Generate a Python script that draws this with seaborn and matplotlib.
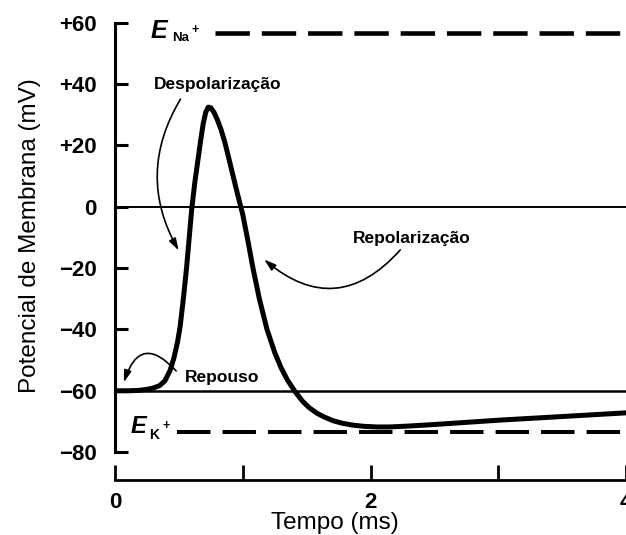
import matplotlib
matplotlib.use("Agg")
import matplotlib.pyplot as plt
import seaborn as sns

# action potential trace (time in ms, membrane potential in mV)
t_ms = [0, 0.10, 0.18, 0.24, 0.30, 0.35, 0.39, 0.43, 0.46, 0.49, 0.51, 0.535,
        0.56, 0.58, 0.60, 0.625, 0.65, 0.67, 0.69, 0.71, 0.73, 0.75, 0.775, 0.80,
        0.83, 0.86, 0.89, 0.92, 0.96, 1.00, 1.04, 1.08, 1.13, 1.19, 1.25, 1.30,
        1.35, 1.41, 1.47, 1.52, 1.58, 1.64, 1.71, 1.78, 1.86, 1.95, 2.05, 2.15,
        2.30, 2.50, 2.75, 3.00, 3.25, 3.50, 3.75, 4.00]
v_mv = [-60, -60, -59.9, -59.6, -59.1, -58.3, -56.8, -53.5, -49.5, -44, -39, -30,
        -20, -10.5, -1, 8, 15.5, 21.5, 27, 30.8, 32.5, 32.3, 30.8, 28.5,
        25.2, 21, 16, 10.8, 4, -2.5, -11, -20, -30, -40, -47.5, -52.5,
        -56.5, -60.3, -63.5, -65.5, -67.3, -68.6, -69.8, -70.6, -71.2, -71.6, -71.8, -71.8,
        -71.5, -71.0, -70.3, -69.6, -69.0, -68.4, -67.8, -67.2]

v_rest = -60
e_na = 56.7
e_k = -73.4
e_na_start = 0.78
e_k_start = 0.485

y_ticks = [-80, -60, -40, -20, 0, 20, 40, 60]
y_labels = ["\u221280", "\u221260", "\u221240", "\u221220", "0", "+20", "+40", "+60"]
x_ticks = [0, 2, 4]
x_labels = ["0", "2", "4"]
x_minor = [1, 3]

sns.set_style("ticks", rc={"axes.edgecolor": "black", "text.color": "black",
                           "xtick.color": "black", "ytick.color": "black",
                           "axes.labelcolor": "black"})
plt.rcParams['font.family'] = ['Liberation Sans', 'DejaVu Sans']

fig = plt.figure(figsize=(6.26, 5.35), dpi=100)
ax = fig.add_axes([115 / 626, 55 / 535, 511 / 626, 463.3 / 535])

# reference lines
ax.axhline(0, color='black', lw=1.4)
ax.axhline(v_rest, color='black', lw=1.8)
ax.hlines(e_na, e_na_start, 4, color='black', lw=3.3, linestyles=(0, (7.5, 2.6)))
ax.hlines(e_k, e_k_start, 4, color='black', lw=2.9, linestyles=(0, (8.3, 3.0)))

# the action potential itself
sns.lineplot(x=t_ms, y=v_mv, ax=ax, color='black', lw=3.6, sort=False,
             estimator=None, solid_joinstyle='round', solid_capstyle='round')

ax.set_xlim(0, 4)
ax.set_ylim(-89.1, 62)

# axes look
sns.despine(ax=ax)
ax.spines['left'].set_bounds(-80, 60)
ax.spines['bottom'].set_bounds(0, 4)
ax.spines['left'].set_linewidth(2.2)
ax.spines['bottom'].set_linewidth(2.0)

ax.set_yticks(y_ticks, y_labels)
ax.set_xticks(x_ticks, x_labels)
ax.set_xticks(x_minor, minor=True)
ax.tick_params(axis='y', direction='in', length=9.5, width=2.2, pad=13, labelsize=16)
ax.tick_params(axis='x', which='both', direction='in', length=11, width=2.0, pad=9, labelsize=16)
for lbl in ax.get_yticklabels() + ax.get_xticklabels():
    lbl.set_fontweight('bold')

fig.text(30 / 626, 1 - 236 / 535, "Potencial de Membrana (mV)", rotation=90,
         ha='center', va='center', fontsize=17.5)
fig.text(335 / 626, 1 - 523 / 535, "Tempo (ms)", ha='center', va='center', fontsize=17.5)

# equilibrium potential labels
ax.text(0.344, 57.4, "E", fontsize=18, fontweight='bold', style='italic', ha='center', va='center')
ax.text(0.51, 55.1, "Na", fontsize=9.5, fontweight='bold', ha='center', va='center')
ax.text(0.625, 57.6, "+", fontsize=9, fontweight='bold', ha='center', va='center')
ax.text(0.18, -71.8, "E", fontsize=17, fontweight='bold', style='italic', ha='center', va='center')
ax.text(0.305, -74.4, "K", fontsize=10, fontweight='bold', ha='center', va='center')
ax.text(0.40, -71.4, "+", fontsize=9, fontweight='bold', ha='center', va='center')

# phase annotations
arrow = dict(arrowstyle='-|>,head_length=0.7,head_width=0.22', color='black', lw=1.2)
ax.text(0.806, 39.8, "Despolarização", fontsize=12.5, fontweight='bold', ha='center', va='center')
ax.annotate("", xy=(0.509, -15.0), xytext=(0.524, 35.9),
            arrowprops=dict(arrow, connectionstyle='arc3,rad=0.3'))
ax.text(2.325, -10.4, "Repolarização", fontsize=12.5, fontweight='bold', ha='center', va='center')
ax.annotate("", xy=(1.151, -16.6), xytext=(2.247, -13.4),
            arrowprops=dict(arrow, connectionstyle='arc3,rad=-0.5'))
ax.text(0.838, -55.8, "Repouso", fontsize=12.5, fontweight='bold', ha='center', va='center')
ax.annotate("", xy=(0.063, -58.1), xytext=(0.493, -54.2),
            arrowprops=dict(arrow, connectionstyle='arc3,rad=0.9'))

fig.savefig("out.png", dpi=100)
